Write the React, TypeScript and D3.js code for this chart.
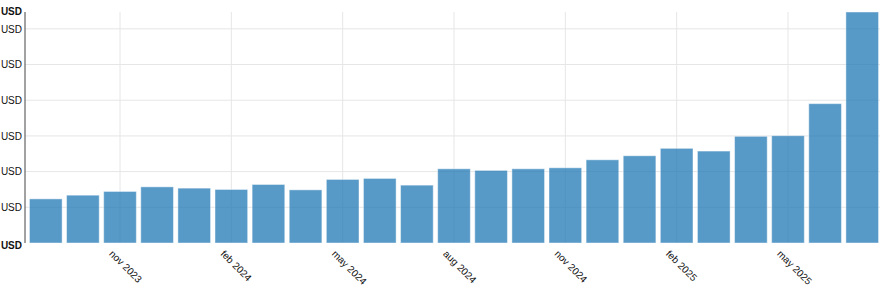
import React from "react";
import * as d3 from "d3";

const months: string[] = [
  "2023-09", "2023-10", "2023-11", "2023-12",
  "2024-01", "2024-02", "2024-03", "2024-04", "2024-05", "2024-06",
  "2024-07", "2024-08", "2024-09", "2024-10", "2024-11", "2024-12",
  "2025-01", "2025-02", "2025-03", "2025-04", "2025-05", "2025-06", "2025-07",
];
const values: number[] = [
  1236, 1340, 1444, 1573, 1537, 1500, 1640, 1489, 1781, 1809,
  1621, 2079, 2034, 2079, 2107, 2331, 2444, 2652, 2576, 2989,
  3006, 3904, 6472,
];
const tickMonths: string[] = ["2023-11", "2024-02", "2024-05", "2024-08", "2024-11", "2025-02", "2025-05"];
const unitLabel = "USD";

const W = 880;
const H = 289;
const left = 25;
const top = 12;
const bottom = 243;

export default function App() {
  const parse = d3.timeParse("%Y-%m");
  const fmt = d3.timeFormat("%b %Y");
  const x = d3.scaleBand<string>().domain(months).range([left, 883]).padding(0.12);
  const maxV = d3.max(values) as number;
  const y = d3.scaleLinear().domain([0, maxV]).range([bottom, top]);
  const yTicks = y.ticks(6);
  const font = "'Liberation Sans', Arial, sans-serif";
  const bw = x.bandwidth();

  return (
    <svg width={W} height={H} style={{ position: "absolute", left: 0, top: 0 }} fontFamily={font}>
      {/* horizontal grid */}
      {yTicks.filter((t) => t !== 0).map((t) => (
        <line key={"hg" + t} x1={left} x2={W} y1={y(t)} y2={y(t)} stroke="#e6e6e6" strokeWidth={1} />
      ))}
      {/* vertical grid */}
      {tickMonths.map((m) => {
        const cx = (x(m) as number) + bw / 2;
        return <line key={"vg" + m} x1={cx} x2={cx} y1={top} y2={bottom} stroke="#e6e6e6" strokeWidth={1} />;
      })}
      {/* bars */}
      {months.map((m, i) => (
        <rect
          key={m}
          x={x(m) as number}
          y={y(values[i])}
          width={bw}
          height={bottom - y(values[i])}
          fill="#1f77b4"
          fillOpacity={0.75}
          stroke="#ffffff"
          strokeOpacity={0.45}
          strokeWidth={1}
        />
      ))}
      {/* y axis */}
      <line x1={left} x2={left} y1={top} y2={bottom} stroke="#444" strokeWidth={1} />
      {yTicks.filter((t) => t !== 0).map((t) => (
        <text key={"yl" + t} x={22} y={y(t)} dy="0.38em" textAnchor="end" fontSize={10} fill="#111">
          {unitLabel}
        </text>
      ))}
      <text x={22} y={y(maxV)} dy="0.33em" textAnchor="end" fontSize={10} fontWeight="bold" fill="#111">
        {unitLabel}
      </text>
      <text x={22} y={y(0)} dy="0.55em" textAnchor="end" fontSize={10} fontWeight="bold" fill="#111">
        {unitLabel}
      </text>
      {/* x axis labels */}
      {tickMonths.map((m) => {
        const cx = (x(m) as number) + bw / 2;
        const label = fmt(parse(m) as Date).toLowerCase();
        return (
          <g key={"xl" + m} transform={`translate(${cx},${bottom})`}>
            <text y={9} dy="0.71em" transform="rotate(45)" textAnchor="start" fontSize={10} fill="#111">
              {label}
            </text>
          </g>
        );
      })}
    </svg>
  );
}
